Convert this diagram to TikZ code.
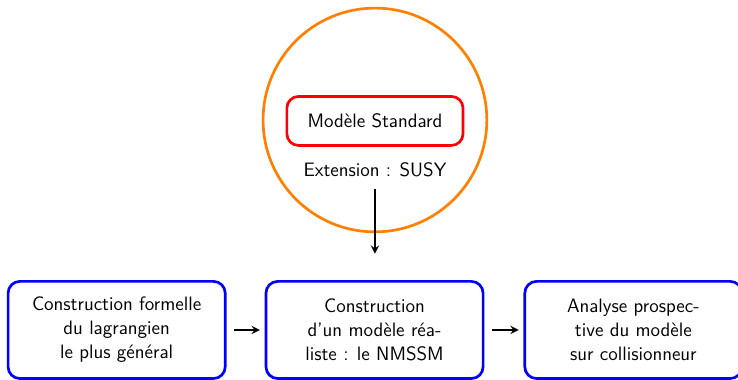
\documentclass[tikz,border=0pt]{standalone}
\usepackage{tikz}
\usetikzlibrary{positioning}

\begin{document}
\begin{tikzpicture}[->, >=stealth, line width=1.2pt, node distance=0.85cm,
  font=\sffamily\fontsize{11.6}{14.3}\selectfont,
  etape/.style={draw=blue, line width=1.6pt, rounded corners=7pt, align=center,
    minimum width=4.56cm, minimum height=2.04cm},
  modele/.style={draw=red, line width=1.6pt, rounded corners=7pt,
    minimum width=3.7cm, minimum height=1.03cm}]

  \useasboundingbox (0,0) rectangle (15.5,-7.96);

  \node[circle, draw=orange, line width=1.6pt, minimum size=4.7cm] (cercle) at (7.875,-2.52) {};
  \node[modele] (MS) at (7.875,-2.54) {Modèle Standard};
  \node (susy) at (7.875,-3.57) {Extension : SUSY};
  \coordinate (bas) at (7.875,-5.33);

  \node[etape] (lagr) at (2.45,-6.93) {Construction formelle\\du lagrangien\\le plus général};
  \node[etape] (nmssm) [right=0.8cm of lagr] {Construction\\d'un modèle réa-\\liste : le NMSSM};
  \node[etape] (coll) [right=0.82cm of nmssm] {Analyse prospec-\\tive du modèle\\sur collisionneur};

  \path (susy.south) ++(0,-0.12) edge (bas)
        (lagr) edge [shorten <=0.15cm, shorten >=0.1cm] (nmssm)
        (nmssm) edge [shorten <=0.15cm, shorten >=0.1cm] (coll);

\end{tikzpicture}
\end{document}
